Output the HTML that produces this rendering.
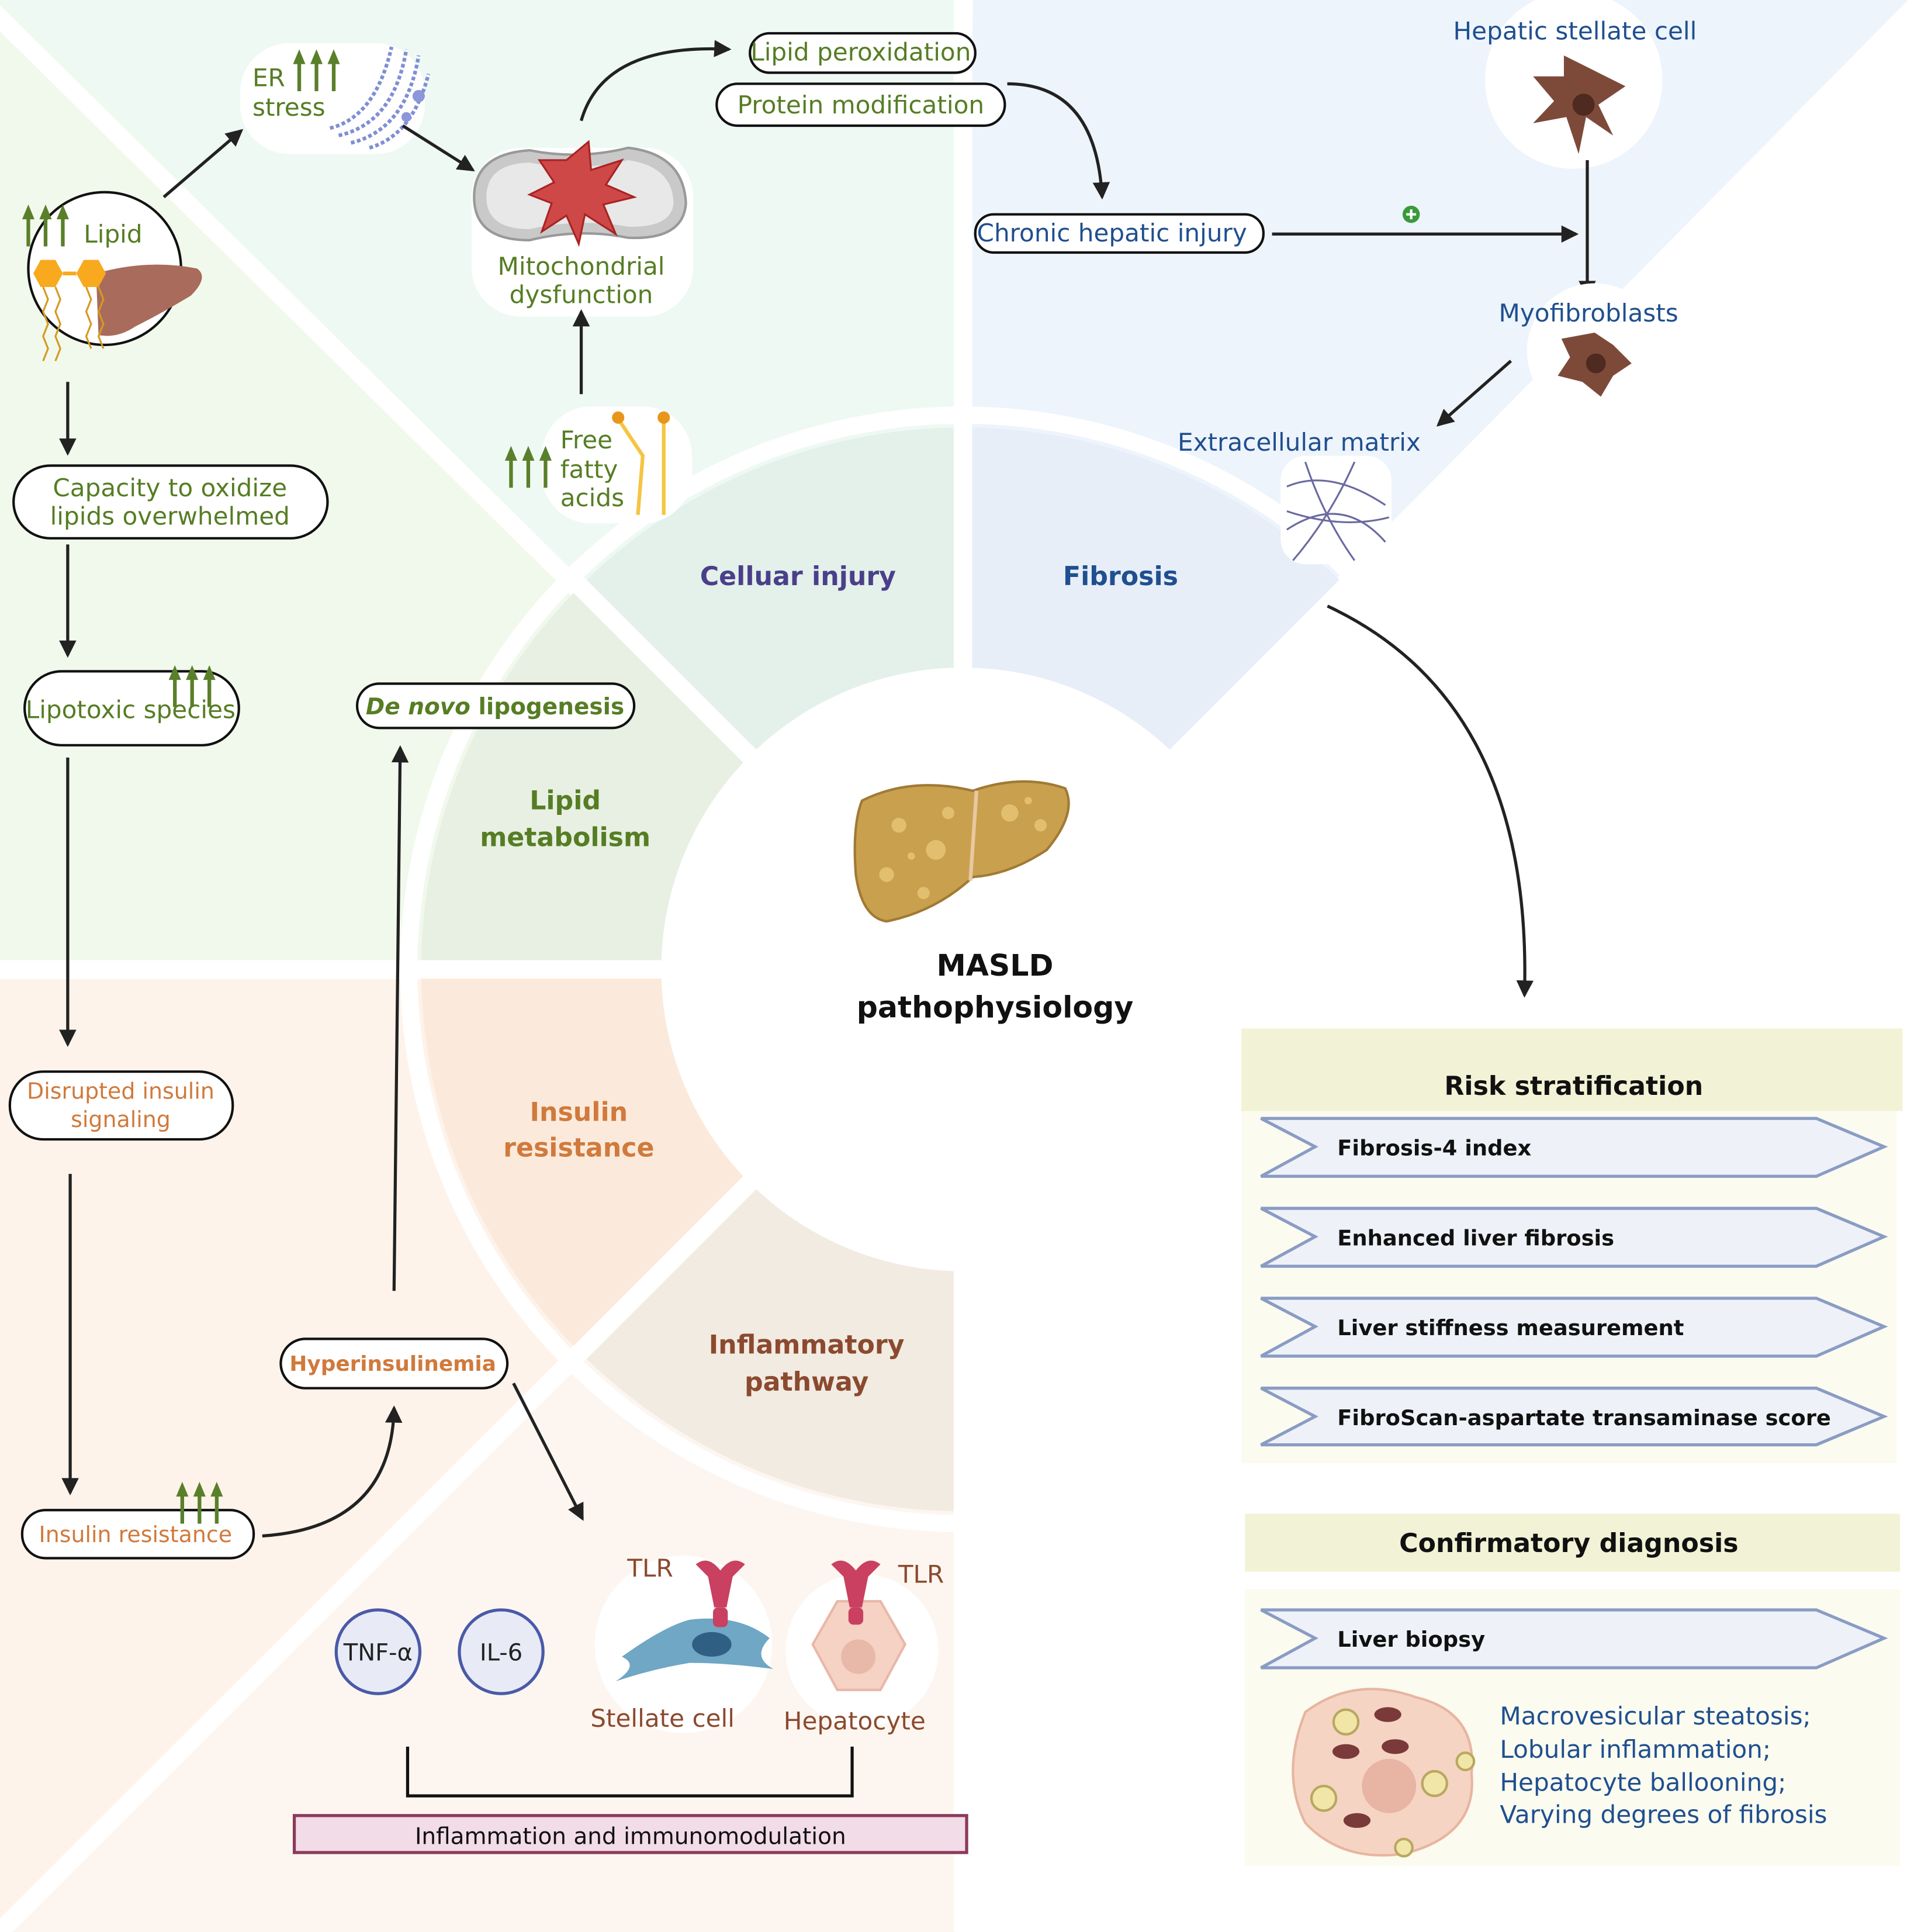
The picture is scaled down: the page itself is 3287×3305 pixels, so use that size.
<!DOCTYPE html>
<html><head><meta charset="utf-8"><style>
html,body{margin:0;padding:0;background:#fff}
svg{display:block}
text{font-family:"DejaVu Sans","Liberation Sans",sans-serif}
.g{fill:#567d24;font-size:20px}
.b{fill:#1f4f8f;font-size:20px}
.o{fill:#d07a3c;font-size:18px}
.br{fill:#8b4a2f;font-size:20px}
.k{fill:#111;font-size:17.5px;font-weight:bold}
.pill{fill:#fff;stroke:#111;stroke-width:2}
.ar{stroke:#222;stroke-width:2.5;fill:none;marker-end:url(#ah)}
.chev{fill:#eef2f8;stroke:#8a9cc4;stroke-width:2.5}
.ga line{stroke:#5a7f2a;stroke-width:3}
.ga polygon{fill:#5a7f2a}
</style></head><body>
<svg width="3287" height="3305" viewBox="0 0 1560 1568.5" xmlns="http://www.w3.org/2000/svg">
<defs>
<marker id="ah" markerUnits="userSpaceOnUse" markerWidth="16" markerHeight="16" refX="12" refY="8" orient="auto"><path d="M0,1 L14,8 L0,15 Z" fill="#222"/></marker>
<g id="up3" class="ga"><line x1="5" y1="10" x2="5" y2="34"/><line x1="19" y1="10" x2="19" y2="34"/><line x1="33" y1="10" x2="33" y2="34"/><polygon points="0,12 5,0 10,12"/><polygon points="14,12 19,0 24,12"/><polygon points="28,12 33,0 38,12"/></g>
</defs>
<!-- backgrounds -->
<rect x="0" y="0" width="782" height="787" fill="#f1f9ec"/>
<polygon points="0,0 782,0 782,787" fill="#eff9f4"/>
<polygon points="790,0 1560,0 782,787" fill="#eef4fb"/>
<rect x="0" y="795" width="776" height="775" fill="#fdf3ea"/>
<polygon points="0,1568 782,787 782,1568" fill="#fdf6f0"/>
<rect x="776" y="795" width="20" height="775" fill="#fff"/>
<g stroke="#fff" stroke-width="15">
<line x1="-10" y1="5" x2="782" y2="787"/>
<line x1="1570" y1="-10" x2="782" y2="787"/>
<line x1="-10" y1="1578" x2="782" y2="787"/>
<line x1="782" y1="0" x2="782" y2="1568"/>
<line x1="0" y1="787" x2="782" y2="787"/>
</g>
<!-- ring -->
<circle cx="782" cy="787" r="450" fill="none" stroke="#fff" stroke-width="14"/>
<path d="M471,476 A440,440 0 0 1 782,347 L782,542 A245,245 0 0 0 609,614 Z" fill="#e3f1ea"/>
<path d="M342,787 A440,440 0 0 1 471,476 L609,614 A245,245 0 0 0 537,787 Z" fill="#e7f0e2"/>
<path d="M471,1098 A440,440 0 0 1 342,787 L537,787 A245,245 0 0 0 609,960 Z" fill="#fbeadb"/>
<path d="M782,1227 A440,440 0 0 1 471,1098 L609,960 A245,245 0 0 0 782,1032 Z" fill="#f2ebe2"/>
<path d="M782,347 A440,440 0 0 1 1093,476 L955,614 A245,245 0 0 0 782,542 Z" fill="#e7eef8"/>
<g stroke="#fff" stroke-width="15">
<line x1="782" y1="330" x2="782" y2="1240"/>
<line x1="330" y1="787" x2="782" y2="787"/>
<line x1="460" y1="465" x2="782" y2="787"/>
<line x1="460" y1="1109" x2="782" y2="787"/>
<line x1="1104" y1="465" x2="782" y2="787"/>
</g>
<circle cx="782" cy="787" r="245" fill="#fff"/>
<rect x="776" y="1040" width="20" height="200" fill="#fff"/>

<!-- ring labels -->
<g font-weight="bold" font-size="21" text-anchor="middle">
<text x="648" y="475" fill="#4b3f8a">Celluar injury</text>
<text x="910" y="475" fill="#1f4f8f">Fibrosis</text>
<text x="459" y="657" fill="#567d24">Lipid</text><text x="459" y="687" fill="#567d24">metabolism</text>
<text x="470" y="910" fill="#d07a3c">Insulin</text><text x="470" y="939" fill="#d07a3c">resistance</text>
<text x="655" y="1099" fill="#8b4a2f">Inflammatory</text><text x="655" y="1129" fill="#8b4a2f">pathway</text>
<text x="808" y="792" fill="#111" font-size="24">MASLD</text><text x="808" y="826" fill="#111" font-size="24">pathophysiology</text>
</g>
<!-- central liver -->
<path d="M700,650 Q740,630 790,642 Q830,628 865,640 Q875,660 850,690 Q820,710 790,712 Q760,740 720,748 Q700,745 695,710 Q692,670 700,650 Z" fill="#c9a04e" stroke="#a07a34" stroke-width="2"/>
<g fill="#e2bf6e"><circle cx="730" cy="670" r="6"/><circle cx="760" cy="690" r="8"/><circle cx="820" cy="660" r="7"/><circle cx="845" cy="670" r="5"/><circle cx="720" cy="710" r="6"/><circle cx="750" cy="725" r="5"/><circle cx="770" cy="660" r="5"/><circle cx="740" cy="695" r="3"/><circle cx="835" cy="650" r="3"/></g>
<line x1="793" y1="642" x2="788" y2="715" stroke="#e8c8a0" stroke-width="3"/>

<!-- top-left: lipid -->
<rect x="195" y="35" width="150" height="90" rx="40" fill="#fff"/>
<text class="g" x="205" y="70">ER</text><text class="g" x="205" y="94">stress</text>
<use href="#up3" x="238" y="40"/>
<g fill="none" stroke="#7f8fd4" stroke-width="3" stroke-dasharray="3 2"><path d="M275,110 Q320,100 330,40"/><path d="M285,116 Q330,105 340,45"/><path d="M268,104 Q305,95 318,38"/><path d="M300,120 Q335,110 348,60"/></g>
<g fill="#8b97d9"><circle cx="340" cy="78" r="5"/><circle cx="330" cy="95" r="4"/></g>

<circle cx="85" cy="218" r="62" fill="#fff" stroke="#111" stroke-width="2"/>
<use href="#up3" x="18" y="166"/>
<text class="g" x="68" y="197">Lipid</text>
<path d="M78,222 Q120,210 160,218 Q170,225 155,240 Q130,255 110,265 Q95,275 80,272 Z" fill="#a86b5c"/>
<polygon points="33,211 45,211 51,222 45,233 33,233 27,222" fill="#f8a91d"/>
<polygon points="68,211 80,211 86,222 80,233 68,233 62,222" fill="#f8a91d"/>
<line x1="51" y1="222" x2="62" y2="222" stroke="#f8a91d" stroke-width="3"/>
<g fill="none" stroke="#d49a20" stroke-width="1.5"><path d="M35,233 l4,10 -4,10 4,10 -4,10 4,10 -4,10"/><path d="M45,233 l4,10 -4,10 4,10 -4,10 4,10 -4,10"/><path d="M70,233 l4,10 -4,10 4,10 -4,10 4,10"/><path d="M80,233 l4,10 -4,10 4,10 -4,10 4,10"/></g>
<line class="ar" x1="133" y1="160" x2="196" y2="106"/>
<line class="ar" x1="327" y1="102" x2="384" y2="138"/>

<!-- mito -->
<rect x="383" y="120" width="180" height="137" rx="40" fill="#fff"/>
<path d="M385,160 Q385,125 430,122 Q470,130 510,120 Q555,125 557,165 Q555,195 510,193 Q470,185 430,195 Q385,195 385,160 Z" fill="#c9c9c9" stroke="#999" stroke-width="2"/>
<path d="M395,160 Q395,133 430,132 Q470,140 510,130 Q546,135 547,165 Q545,185 510,184 Q470,177 430,186 Q395,186 395,160 Z" fill="#e8e8e8"/>
<polygon points="460,130 478,115 480,138 505,130 492,150 515,160 490,166 500,190 475,174 470,198 460,175 440,188 448,165 430,158 450,148 438,130" fill="#cf4848" stroke="#a22" stroke-width="1.5"/>
<text class="g" x="472" y="223" text-anchor="middle">Mitochondrial</text>
<text class="g" x="472" y="246" text-anchor="middle">dysfunction</text>
<path class="ar" d="M472,98 Q490,35 592,40"/>

<rect class="pill" x="609" y="27" width="183" height="32" rx="16"/>
<text class="g" x="699" y="49" text-anchor="middle" font-size="17.5">Lipid peroxidation</text>
<rect class="pill" x="582" y="68" width="234" height="34" rx="17"/>
<text class="g" x="699" y="92" text-anchor="middle" font-size="18">Protein modification</text>
<path class="ar" d="M818,68 Q890,68 895,160"/>

<!-- FFA -->
<rect x="440" y="330" width="122" height="95" rx="40" fill="#fff"/>
<use href="#up3" x="410" y="362"/>
<text class="g" x="455" y="364">Free</text><text class="g" x="455" y="388">fatty</text><text class="g" x="455" y="411">acids</text>
<g stroke="#f5c542" stroke-width="3" fill="none"><path d="M502,340 L522,370 L518,418"/><line x1="539" y1="340" x2="539" y2="418"/></g>
<g fill="#e8961a"><circle cx="502" cy="339" r="5"/><circle cx="539" cy="339" r="5"/></g>
<line class="ar" x1="472" y1="320" x2="472" y2="253"/>

<!-- left column -->
<line class="ar" x1="55" y1="310" x2="55" y2="368"/>
<rect class="pill" x="11" y="378" width="255" height="59" rx="30"/>
<text class="g" x="138" y="403" text-anchor="middle">Capacity to oxidize</text>
<text class="g" x="138" y="426" text-anchor="middle">lipids overwhelmed</text>
<line class="ar" x1="55" y1="442" x2="55" y2="532"/>
<rect class="pill" x="20" y="545" width="174" height="60" rx="30"/>
<use href="#up3" x="137" y="540"/>
<text class="g" x="106" y="583" text-anchor="middle" font-size="18.5">Lipotoxic species</text>
<line class="ar" x1="55" y1="615" x2="55" y2="848"/>
<rect class="pill" x="290" y="555" width="225" height="36" rx="18"/>
<text x="402" y="580" text-anchor="middle" fill="#567d24" font-size="18.5" font-weight="bold"><tspan font-style="italic">De novo</tspan> lipogenesis</text>
<line class="ar" x1="320" y1="1048" x2="325" y2="607"/>
<rect class="pill" x="8" y="870" width="181" height="55" rx="27"/>
<text class="o" x="98" y="892" text-anchor="middle">Disrupted insulin</text>
<text class="o" x="98" y="915" text-anchor="middle">signaling</text>
<line class="ar" x1="57" y1="953" x2="57" y2="1212"/>
<rect class="pill" x="18" y="1226" width="188" height="39" rx="19"/>
<use href="#up3" x="143" y="1203"/>
<text class="o" x="110" y="1252" text-anchor="middle">Insulin resistance</text>
<path class="ar" d="M213,1247 Q318,1240 320,1143"/>
<rect class="pill" x="228" y="1087" width="184" height="40" rx="20"/>
<text x="319" y="1113" text-anchor="middle" fill="#d07a3c" font-size="17" font-weight="bold">Hyperinsulinemia</text>
<line class="ar" x1="417" y1="1123" x2="473" y2="1233"/>

<!-- inflammation -->
<circle cx="307" cy="1341" r="34" fill="#e8eaf6" stroke="#4a5aa8" stroke-width="2.5"/>
<text x="307" y="1348" text-anchor="middle" font-size="19" fill="#222">TNF-α</text>
<circle cx="407" cy="1341" r="34" fill="#e8eaf6" stroke="#4a5aa8" stroke-width="2.5"/>
<text x="407" y="1348" text-anchor="middle" font-size="19" fill="#222">IL-6</text>
<circle cx="555" cy="1335" r="72" fill="#fff"/>
<circle cx="700" cy="1340" r="62" fill="#fff"/>
<path d="M505,1345 Q540,1320 560,1315 Q600,1310 625,1330 Q610,1345 628,1355 Q590,1350 560,1350 Q530,1355 500,1365 Q520,1352 505,1345 Z" fill="#6fa7c4"/>
<ellipse cx="578" cy="1335" rx="16" ry="10" fill="#2f5f82"/>
<polygon points="680,1300 715,1300 735,1335 715,1372 680,1372 660,1335" fill="#f5d2c4" stroke="#e8b8a8" stroke-width="2"/>
<circle cx="697" cy="1345" r="14" fill="#e8b9a8"/>
<g fill="#c94060"><path d="M565,1270 q10,-8 20,5 q10,-13 20,-5 l-10,10 -5,25 h-10 l-5,-25 Z"/><rect x="579" y="1305" width="12" height="16" rx="4"/>
<path d="M675,1270 q10,-8 20,5 q10,-13 20,-5 l-10,10 -5,25 h-10 l-5,-25 Z"/><rect x="689" y="1305" width="12" height="14" rx="4"/></g>
<text class="br" x="528" y="1280" text-anchor="middle">TLR</text>
<text class="br" x="748" y="1285" text-anchor="middle">TLR</text>
<text class="br" x="538" y="1402" text-anchor="middle">Stellate cell</text>
<text class="br" x="694" y="1404" text-anchor="middle">Hepatocyte</text>
<path d="M331,1418 V1458 H692 V1418" fill="none" stroke="#111" stroke-width="2.5"/>
<rect x="239" y="1474" width="546" height="30" fill="#f2dce8" stroke="#8b3a5a" stroke-width="2.5"/>
<text x="512" y="1497" text-anchor="middle" font-size="18.5" fill="#111">Inflammation and immunomodulation</text>

<!-- fibrosis side -->
<rect class="pill" x="792" y="174" width="234" height="31" rx="15"/>
<text class="b" x="903" y="196" text-anchor="middle" font-size="18">Chronic hepatic injury</text>
<line class="ar" x1="1033" y1="190" x2="1280" y2="190"/>
<circle cx="1146" cy="174" r="7" fill="#3a9a3a"/>
<path d="M1142,174 h8 M1146,170 v8" stroke="#fff" stroke-width="2"/>
<circle cx="1278" cy="65" r="72" fill="#fff"/>
<text class="b" x="1279" y="32" text-anchor="middle">Hepatic stellate cell</text>
<path d="M1290,55 L1320,70 L1298,85 L1310,110 L1288,95 L1282,125 L1272,95 L1245,100 L1262,82 L1245,62 L1270,62 L1270,45 Z" fill="#7d4a3a"/>
<circle cx="1286" cy="85" r="9" fill="#4e2a20"/>
<line class="ar" x1="1289" y1="130" x2="1289" y2="240"/>
<circle cx="1295" cy="285" r="55" fill="#fff"/>
<text class="b" x="1290" y="261" text-anchor="middle">Myofibroblasts</text>
<path d="M1295,270 L1310,280 L1325,295 L1310,305 L1300,322 L1285,310 L1265,305 L1275,290 L1268,275 Z" fill="#7d4a3a"/>
<circle cx="1296" cy="295" r="8" fill="#4e2a20"/>
<line class="ar" x1="1227" y1="293" x2="1168" y2="345"/>
<rect x="1040" y="370" width="90" height="88" rx="20" fill="#fff"/>
<text class="b" x="1055" y="366" text-anchor="middle">Extracellular matrix</text>
<g stroke="#6a6aa0" stroke-width="1.5" fill="none"><path d="M1045,395 Q1080,380 1125,410"/><path d="M1045,430 Q1090,400 1125,440"/><path d="M1060,375 Q1075,420 1100,455"/><path d="M1100,375 Q1080,420 1050,455"/><path d="M1045,415 Q1090,430 1128,420"/></g>
<path class="ar" d="M1078,492 Q1245,570 1238,808"/>

<!-- risk stratification -->
<rect x="1008" y="835" width="537" height="67" fill="#f2f2d6"/>
<rect x="1008" y="902" width="532" height="286" fill="#fbfbf0"/>
<text x="1278" y="889" text-anchor="middle" font-size="21" font-weight="bold" fill="#111">Risk stratification</text>
<polygon class="chev" points="1024,908 1475,908 1530,931 1475,955 1024,955 1068,931"/>
<polygon class="chev" points="1024,981 1475,981 1530,1004 1475,1028 1024,1028 1068,1004"/>
<polygon class="chev" points="1024,1054 1475,1054 1530,1077 1475,1101 1024,1101 1068,1077"/>
<polygon class="chev" points="1024,1127 1475,1127 1530,1150 1475,1173 1024,1173 1068,1150"/>
<text class="k" x="1086" y="938">Fibrosis-4 index</text>
<text class="k" x="1086" y="1011">Enhanced liver fibrosis</text>
<text class="k" x="1086" y="1084">Liver stiffness measurement</text>
<text class="k" x="1086" y="1157">FibroScan-aspartate transaminase score</text>

<rect x="1011" y="1229" width="532" height="47" fill="#f2f2d6"/>
<rect x="1011" y="1290" width="532" height="225" fill="#fbfbf0"/>
<text x="1274" y="1260" text-anchor="middle" font-size="21" font-weight="bold" fill="#111">Confirmatory diagnosis</text>
<polygon class="chev" points="1024,1307 1475,1307 1530,1330 1475,1354 1024,1354 1068,1330"/>
<text class="k" x="1086" y="1337">Liver biopsy</text>
<path d="M1060,1390 Q1100,1360 1150,1378 Q1200,1390 1195,1440 Q1200,1490 1140,1505 Q1090,1512 1060,1480 Q1040,1440 1060,1390 Z" fill="#f6d4c4" stroke="#e7b5a0" stroke-width="2"/>
<circle cx="1128" cy="1450" r="22" fill="#e8b4a3"/>
<g fill="#f1e6a8" stroke="#b8a860" stroke-width="2"><circle cx="1093" cy="1398" r="10"/><circle cx="1075" cy="1460" r="10"/><circle cx="1165" cy="1448" r="10"/><circle cx="1190" cy="1430" r="7"/><circle cx="1140" cy="1500" r="7"/></g>
<g fill="#7a3a3a"><ellipse cx="1127" cy="1392" rx="11" ry="6"/><ellipse cx="1093" cy="1422" rx="11" ry="6"/><ellipse cx="1133" cy="1418" rx="11" ry="6"/><ellipse cx="1102" cy="1478" rx="11" ry="6"/></g>
<g class="b"><text x="1218" y="1400">Macrovesicular steatosis;</text><text x="1218" y="1427">Lobular inflammation;</text><text x="1218" y="1454">Hepatocyte ballooning;</text><text x="1218" y="1480">Varying degrees of fibrosis</text></g>
</svg>
</body></html>
